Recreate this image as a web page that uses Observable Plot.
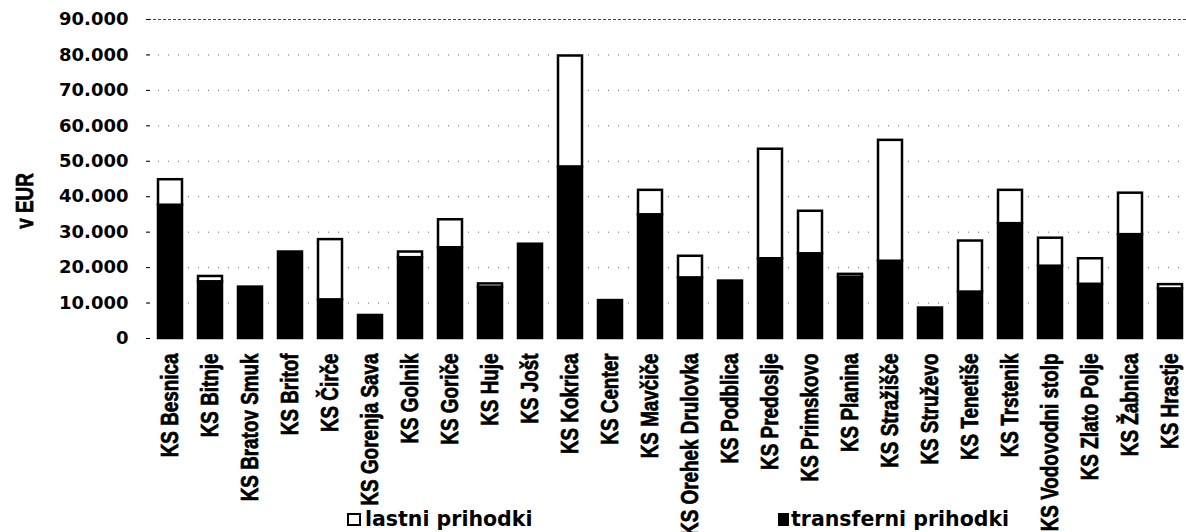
<!DOCTYPE html>
<html>
<head>
<meta charset="utf-8">
<script src="https://cdn.jsdelivr.net/npm/d3@7"></script>
<script src="https://cdn.jsdelivr.net/npm/@observablehq/plot@0.6"></script>
<style>
  html, body { margin: 0; padding: 0; background: #fff; }
  #wrap { position: relative; width: 1186px; height: 532px; overflow: hidden; background: #fff; }
  #wrap svg { position: absolute; left: 0; top: 0; }
  .leg { position: absolute; font-family: "DejaVu Sans", sans-serif; font-weight: bold; font-size: 20.5px; color: #000; white-space: nowrap; line-height: 1; letter-spacing: 0px; }
  .box { position: absolute; box-sizing: border-box; }
  .ylab { position: absolute; font-family: "Liberation Sans", Arial, sans-serif; font-weight: bold; font-size: 23px; line-height: 1; white-space: nowrap; color: #000;
          -webkit-text-stroke: 0.7px #000;
          transform: translate(-50%, -50%) rotate(-90deg) scaleX(0.82); }
</style>
</head>
<body>
<div id="wrap"></div>
<script>
const categories = ["KS Besnica", "KS Bitnje", "KS Bratov Smuk", "KS Britof", "KS Čirče", "KS Gorenja Sava", "KS Golnik", "KS Goriče", "KS Huje", "KS Jošt", "KS Kokrica", "KS Center", "KS Mavčiče", "KS Orehek Drulovka", "KS Podblica", "KS Predoslje", "KS Primskovo", "KS Planina", "KS Stražišče", "KS Struževo", "KS Tenetiše", "KS Trstenik", "KS Vodovodni stolp", "KS Zlato Polje", "KS Žabnica", "KS Hrastje"];
const transferni = [37600, 16000, 14500, 24400, 10900, 6500, 22800, 25600, 14500, 26600, 48400, 10700, 34900, 17100, 16200, 22500, 23900, 17300, 21800, 8600, 13100, 32400, 20400, 15300, 29300, 14000];
const lastni = [7200, 1500, 0, 0, 17000, 0, 1600, 7900, 900, 0, 31300, 0, 6900, 6100, 0, 30900, 12000, 800, 34100, 0, 14400, 9400, 7900, 7200, 11700, 1200];
const seriesNames = ["transferni prihodki", "lastni prihodki"];
const yTicks = [0, 10000, 20000, 30000, 40000, 50000, 60000, 70000, 80000, 90000];
const gridTicks = [10000, 20000, 30000, 40000, 50000, 60000, 70000, 80000];
const topTick = [90000];
const yLabel = "v EUR";

const rows = categories.flatMap((ks, i) => [
  {ks, type: seriesNames[0], value: transferni[i]},
  {ks, type: seriesNames[1], value: lastni[i]}
]);

const fmt = d => d === 0 ? "0" : d3.format(",")(d).replace(/,/g, ".");

const chart = Plot.plot({
  width: 1186,
  height: 532,
  marginTop: 19,
  marginBottom: 194,
  marginLeft: 150,
  marginRight: 0,
  style: {background: "transparent", color: "#000"},
  x: {domain: categories, range: [150, 1190], paddingInner: 0.39, paddingOuter: 0.195, label: null},
  y: {domain: [0, 90000], label: null},
  color: {domain: seriesNames, range: ["#000", "#fff"]},
  marks: [
    Plot.ruleY(gridTicks, {stroke: "#666", strokeWidth: 1, strokeDasharray: "1,9", insetLeft: -2}),
    Plot.ruleY(topTick, {stroke: "#444", strokeWidth: 1, strokeDasharray: "3,2", insetLeft: -2}),
    Plot.barY(rows, Plot.stackY({x: "ks", y: "value", fill: "type", stroke: "#000", strokeWidth: 2.5})),
    Plot.axisY({ticks: yTicks, tickSize: 4, tickPadding: 18, tickFormat: fmt, label: null,
      fontFamily: "'DejaVu Sans', sans-serif", fontWeight: "bold", fontSize: 18}),
    Plot.axisX({tickSize: 0, tickPadding: 15, tickRotate: -90, label: null,
      fontFamily: "'Liberation Sans', Arial, sans-serif", fontWeight: "bold", fontSize: 23})
  ]
});

const wrap = document.getElementById("wrap");
wrap.appendChild(chart);

// condense and embolden the rotated category labels (narrow heavy look of the reference)
chart.querySelectorAll('g[aria-label="x-axis tick label"] text').forEach(t => {
  const L = t.getComputedTextLength();
  t.setAttribute("textLength", (L * 0.82).toFixed(1));
  t.setAttribute("lengthAdjust", "spacingAndGlyphs");
  t.setAttribute("stroke", "#000");
  t.setAttribute("stroke-width", "0.7");
});

// y axis title
const yl = document.createElement("div");
yl.className = "ylab";
yl.style.left = "25px";
yl.style.top = "201px";
yl.textContent = yLabel;
wrap.appendChild(yl);

// legend
const legend = [
  {name: seriesNames[1], boxX: 347, textX: 365, fill: "#fff", w: 14},
  {name: seriesNames[0], boxX: 778, textX: 791, fill: "#000", w: 11}
];
for (const l of legend) {
  const b = document.createElement("div");
  b.className = "box";
  b.style.left = l.boxX + "px";
  b.style.top = "513px";
  b.style.width = l.w + "px";
  b.style.height = "13px";
  b.style.background = l.fill;
  b.style.border = "2px solid #000";
  wrap.appendChild(b);
  const t = document.createElement("div");
  t.className = "leg";
  t.style.left = l.textX + "px";
  t.style.top = "509px";
  t.textContent = l.name;
  wrap.appendChild(t);
}
</script>
</body>
</html>
